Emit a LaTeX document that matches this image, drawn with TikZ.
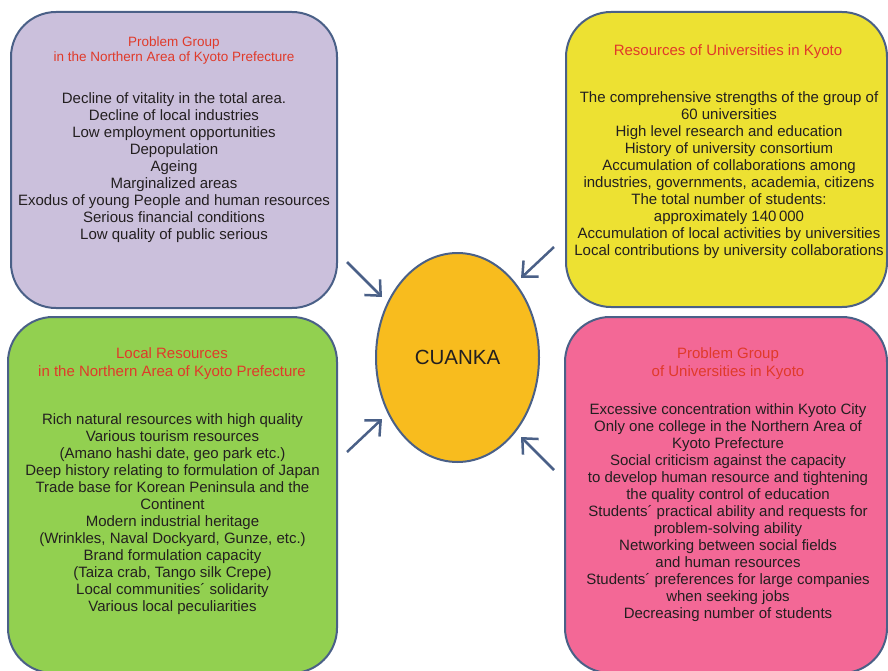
\documentclass[tikz,border=0pt]{standalone}
\usepackage{fontspec}
\setmainfont{Liberation Sans}
\usetikzlibrary{shapes.geometric,arrows.meta}
\definecolor{bordc}{HTML}{4A6087}
\definecolor{purp}{HTML}{CBC0DC}
\definecolor{yell}{HTML}{EDE132}
\definecolor{gree}{HTML}{92D050}
\definecolor{pink}{HTML}{F36896}
\definecolor{oran}{HTML}{F8BC1E}
\definecolor{titr}{HTML}{E03A2A}
\definecolor{txt}{HTML}{231F20}
\tikzset{
  panel/.style={draw=bordc, line width=2pt, rounded corners=45pt, inner sep=0pt},
  body/.style={align=center, text=txt, inner sep=0pt, font=\fontsize{15}{17}\selectfont},
  ttl/.style={align=center, text=titr, inner sep=0pt, font=\fontsize{15}{18}\selectfont},
  ttlsmall/.style={align=center, text=titr, inner sep=0pt, font=\fontsize{13.5}{15}\selectfont},
  arr/.style={draw=bordc, line width=2.5pt, -{Straight Barb[length=12pt,width=22pt]}}
}
\begin{document}
\begin{tikzpicture}[x=1pt,y=-1pt]
\useasboundingbox (0,0) rectangle (888,671);
% panels
\node[panel, fill=purp, minimum width=326, minimum height=296] (b1) at (174,160) {};
\node[panel, fill=yell, minimum width=321, minimum height=295] (b2) at (726.5,159.5) {};
\node[panel, fill=gree, minimum width=329, minimum height=356] (b3) at (172.5,495) {};
\node[panel, fill=pink, minimum width=322, minimum height=356] (b4) at (726,495) {};
% center
\node[ellipse, draw=bordc, line width=2pt, fill=oran, minimum width=163, minimum height=209, inner sep=0pt, text=txt, font=\fontsize{20.5}{24}\selectfont] (c) at (457.5,357.5) {CUANKA};
% titles
\node[ttlsmall] (t1) at (174,50.5) {Problem Group\\in the Northern Area of Kyoto Prefecture};
\node[ttl] (t2) at (728,52) {Resources of Universities in Kyoto};
\node[ttl] (t3) at (172,364) {Local Resources\\in the Northern Area of Kyoto Prefecture};
\node[ttl] (t4) at (728,364) {Problem Group\\of Universities in Kyoto};
% bodies
\node[body] (x1) at (174,167.5) {Decline of vitality in the total area.\\Decline of local industries\\Low employment opportunities\\Depopulation\\Ageing\\Marginalized areas\\Exodus of young People and human resources\\Serious financial conditions\\Low quality of public serious};
\node[body] (x2) at (729,175) {The comprehensive strengths of the group of\\60 universities\\High level research and education\\History of university consortium\\Accumulation of collaborations among\\industries, governments, academia, citizens\\The total number of students:\\approximately 140\,000\\Accumulation of local activities by universities\\Local contributions by university collaborations};
\node[body] (x3) at (172.5,514.5) {Rich natural resources with high quality\\Various tourism resources\\(Amano hashi date, geo park etc.)\\Deep history relating to formulation of Japan\\Trade base for Korean Peninsula and the\\Continent\\Modern industrial heritage\\(Wrinkles, Naval Dockyard, Gunze, etc.)\\Brand formulation capacity\\(Taiza crab, Tango silk Crepe)\\Local communities´ solidarity\\Various local peculiarities};
\node[body] (x4) at (728,512.5) {Excessive concentration within Kyoto City\\Only one college in the Northern Area of\\Kyoto Prefecture\\Social criticism against the capacity\\to develop human resource and tightening\\the quality control of education\\Students´ practical ability and requests for\\problem-solving ability\\Networking between social fields\\and human resources\\Students´ preferences for large companies\\when seeking jobs\\Decreasing number of students};
% arrows
\coordinate (a1s) at (347,262); \coordinate (a1e) at (382,297);
\coordinate (a2s) at (554,247); \coordinate (a2e) at (521,278);
\coordinate (a3s) at (347,452); \coordinate (a3e) at (382,419);
\coordinate (a4s) at (554,470); \coordinate (a4e) at (521,437);
\draw[arr] (a1s) -- (a1e);
\draw[arr] (a2s) -- (a2e);
\draw[arr] (a3s) -- (a3e);
\draw[arr] (a4s) -- (a4e);
\end{tikzpicture}
\end{document}
